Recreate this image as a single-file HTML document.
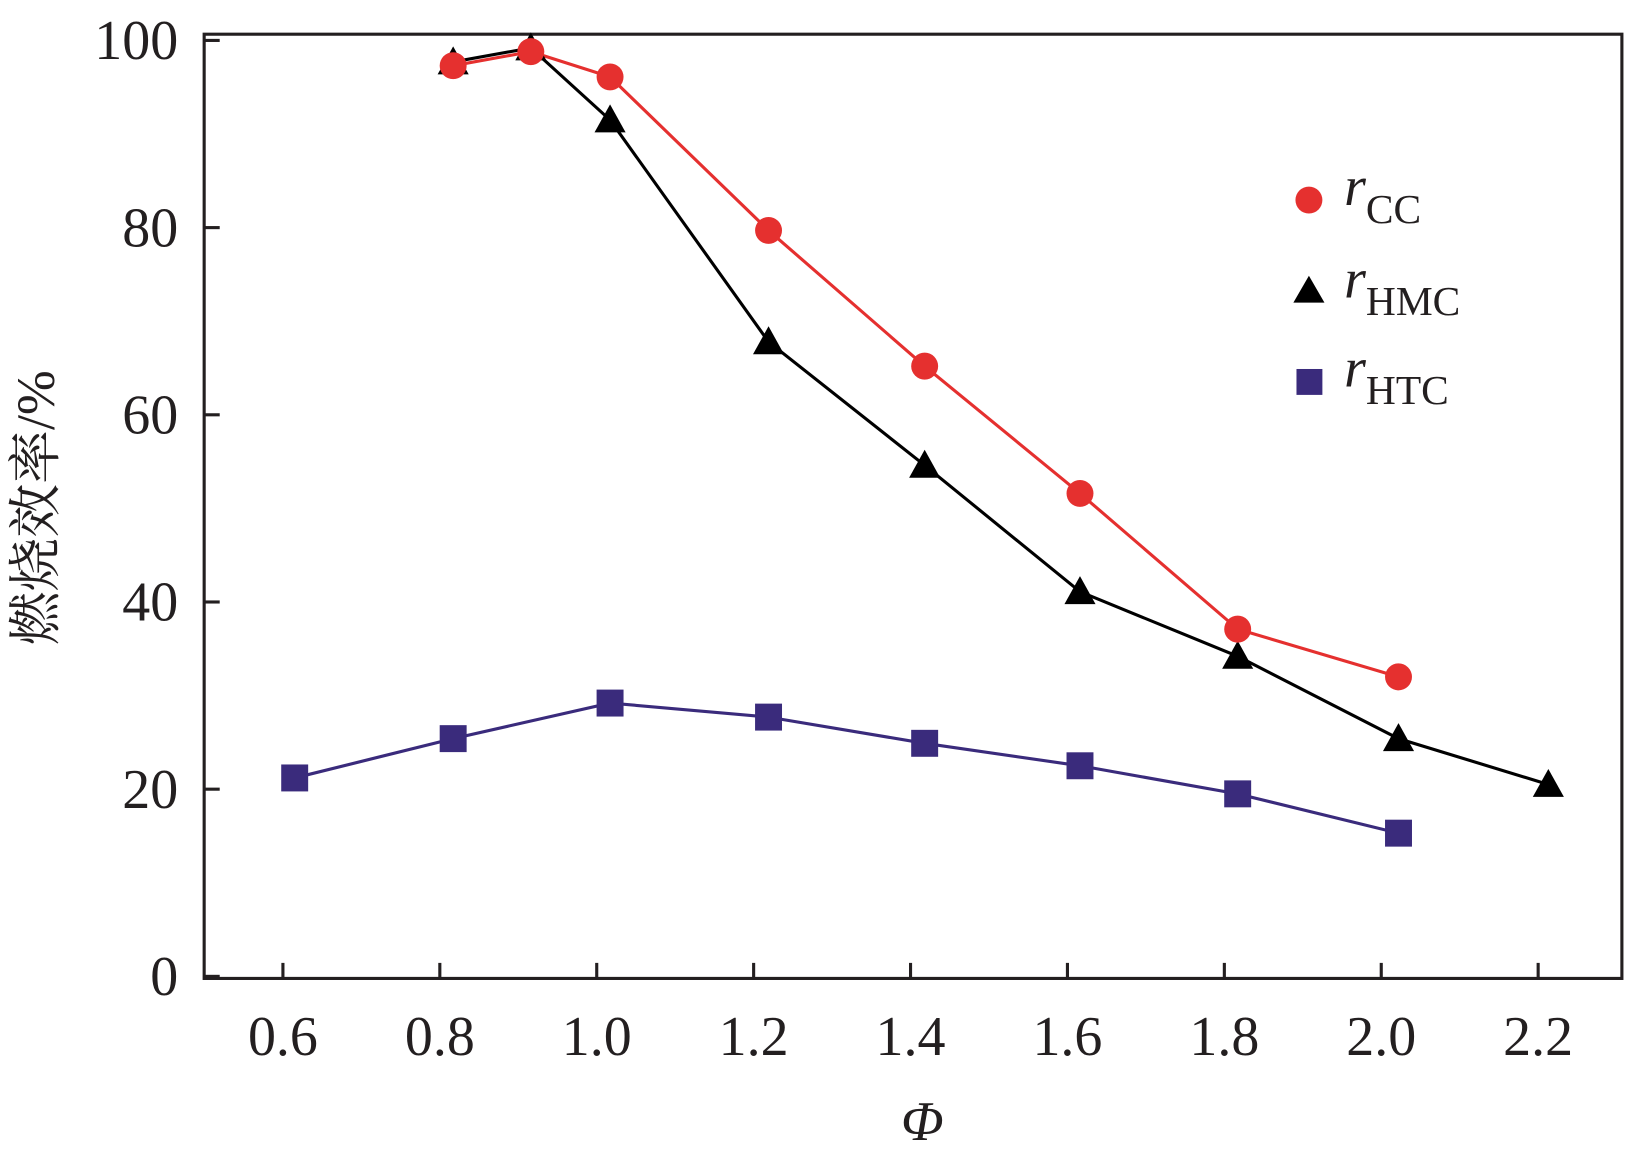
<!DOCTYPE html>
<html><head><meta charset="utf-8"><style>
body{margin:0;background:#fff}
svg text{font-family:"Liberation Serif","Noto Serif CJK SC",serif;fill:#231f20}
</style></head><body>
<svg id="chart" width="1625" height="1165" viewBox="0 0 1568 1124" preserveAspectRatio="none" xmlns="http://www.w3.org/2000/svg">
<rect x="197" y="33" width="1368" height="911" fill="none" stroke="#231f20" stroke-width="3"/>
<g id="axes"></g>
<g id="series"></g>
<text x="890" y="1100" font-size="54" font-style="italic" text-anchor="middle">Φ</text>
<text transform="translate(52,490) rotate(-90)" font-size="52" text-anchor="middle">燃烧效率/%</text>
<g>
<circle cx="1263" cy="193" r="13" fill="#e5302f"/>
<text x="1297" y="198" font-size="54" font-style="italic">r<tspan font-style="normal" font-size="40" dy="17">CC</tspan></text>
<polygon points="1263,266 1278,292 1248,292" fill="#000"/>
<text x="1297" y="287" font-size="54" font-style="italic">r<tspan font-style="normal" font-size="40" dy="17">HMC</tspan></text>
<rect x="1251" y="356" width="25" height="25" fill="#3a2b7c"/>
<text x="1297" y="373" font-size="54" font-style="italic">r<tspan font-style="normal" font-size="40" dy="17">HTC</tspan></text>
</g>
</svg>
<script>
const xTicks=[0.6,0.8,1.0,1.2,1.4,1.6,1.8,2.0,2.2];
const xTickLabels=["0.6","0.8","1.0","1.2","1.4","1.6","1.8","2.0","2.2"];
const yTicks=[0,20,40,60,80,100];
const yTickLabels=["0","20","40","60","80","100"];
const ccX=[0.817,0.916,1.017,1.219,1.418,1.616,1.817,2.022];
const ccY=[97.3,98.8,96.1,79.7,65.2,51.6,37.1,32.0];
const hmcX=[0.817,0.916,1.017,1.219,1.418,1.616,1.817,2.022,2.213];
const hmcY=[97.7,99.2,91.5,67.8,54.6,41.1,34.2,25.4,20.5];
const htcX=[0.615,0.817,1.017,1.219,1.418,1.616,1.817,2.022];
const htcY=[21.2,25.4,29.2,27.7,24.9,22.5,19.5,15.3];
const NS="http://www.w3.org/2000/svg";
function sx(v){return 273+(v-0.6)*757;}
function sy(v){return 942-9.03*v;}
function mk(tag,attrs,parent){const e=document.createElementNS(NS,tag);for(const k in attrs)e.setAttribute(k,attrs[k]);parent.appendChild(e);return e;}
const axes=document.getElementById('axes');
xTicks.forEach((t,i)=>{
 const l=mk('line',{x1:sx(t),x2:sx(t),y1:944,y2:929,stroke:'#231f20','stroke-width':3},axes);
 
 
 const tx=mk('text',{x:sx(t),y:1018,'font-size':54,'text-anchor':'middle'},axes);
 tx.textContent=xTickLabels[i];
 
 
});
yTicks.forEach((t,i)=>{
 const l=mk('line',{x1:197,x2:212,y1:sy(t),y2:sy(t),stroke:'#231f20','stroke-width':3},axes);
 
 
 const tx=mk('text',{x:172,y:sy(t)+18,'font-size':54,'text-anchor':'end'},axes);
 tx.textContent=yTickLabels[i];
 
 
});
const sg=document.getElementById('series');
function line(xs,ys,color,name){
 const p=mk('polyline',{points:xs.map((x,i)=>sx(x)+','+sy(ys[i])).join(' '),fill:'none',stroke:color,'stroke-width':3},sg);
 
 
}
line(htcX,htcY,'#3a2b7c','htc-line');
line(hmcX,hmcY,'#000','hmc-line');
line(ccX,ccY,'#e5302f','cc-line');
htcX.forEach((x,i)=>{
 const r=mk('rect',{x:sx(x)-13,y:sy(htcY[i])-13,width:26,height:26,fill:'#3a2b7c'},sg);
 
 
});
hmcX.forEach((x,i)=>{
 const cx=sx(x),cy=sy(hmcY[i]);
 const p=mk('polygon',{points:`${cx},${cy-15} ${cx+15},${cy+12} ${cx-15},${cy+12}`,fill:'#000'},sg);
 
 
});
ccX.forEach((x,i)=>{
 const c=mk('circle',{cx:sx(x),cy:sy(ccY[i]),r:13,fill:'#e5302f'},sg);
 
 
});
</script>
</body></html>
